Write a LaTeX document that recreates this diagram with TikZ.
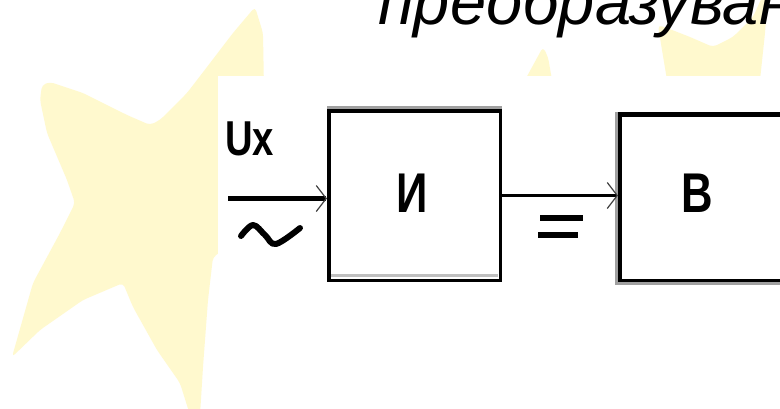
\documentclass[tikz,border=0pt]{standalone}
\usepackage{fontspec}
\setmainfont{Liberation Sans}
\newfontfamily\narrowfont[FakeStretch=0.78]{Liberation Sans}
\usetikzlibrary{arrows.meta}

\definecolor{starfill}{RGB}{255,249,206}
\definecolor{rimgray}{RGB}{160,160,160}

\tikzset{
  block/.style={draw=black, line width=3.5pt, fill=white, inner sep=0pt},
  blocklabel/.style={inner sep=0pt, font=\narrowfont\bfseries\fontsize{56pt}{56pt}\selectfont},
  signal/.style={inner sep=0pt, font=\narrowfont\bfseries\fontsize{49pt}{49pt}\selectfont},
  barb/.style={-{Straight Barb[length=10pt,width=26pt,line width=1.2pt,color=black!75]}},
  feed/.style={line width=5.5pt, barb},
  link/.style={line width=3pt, barb},
  star/.style={fill=starfill, draw=none, rounded corners=4pt},
  glyph/.style={line width=6pt, line cap=round, line join=round},
}

\begin{document}
\begin{tikzpicture}[x=1pt, y=-1pt]
  \useasboundingbox (0,0) rectangle (780,408);
  \clip (0,0) rectangle (780,408);
  \fill[white] (0,0) rectangle (780,408);

  % background stars
  \fill[star] (255,7) -- (263,33) -- (264,90) -- (300,200) -- (213,257) -- (208,300)
    -- (203,367) -- (200,415) -- (190,415) -- (180,383) -- (157,350) -- (133,307)
    -- (123,283) -- (83,300) -- (40,330) -- (12,357) -- (33,283) -- (60,233)
    -- (75,203) -- (67,180) -- (47,133) -- (40,100) -- (42,85) -- (50,82)
    -- (83,93) -- (127,115) -- (150,125) -- (160,120) -- (187,93) -- (207,67)
    -- (233,33) -- cycle;
  \fill[star] (658,25) -- (667,28) -- (690,37) -- (713,47) -- (733,37) -- (753,17)
    -- (763,-5) -- (768,-5) -- (765,33) -- (760,80) -- (667,80) -- (662,50) -- cycle;
  \fill[star] (525,80) -- (543,47) -- (548,57) -- (552,80) -- cycle;

  % white panel behind the scheme
  \fill[white] (218,76) rectangle (780,408);

  % heading
  \node[anchor=base west, inner sep=0pt, font=\itshape\fontsize{65pt}{65pt}\selectfont]
    (title) at (378,24) {преобразуван};

  % blocks
  \fill[rimgray] (327,106) rectangle (502,109);
  \node[block, minimum width=171.5pt, minimum height=169.5pt] (I) at (414.5,195.5) {};
  \fill[black!25] (331,274) rectangle (498,277);
  \node[blocklabel] (Ilabel) at (412,193) {И};

  \fill[rimgray] (615,112) rectangle (618,285);
  \fill[rimgray] (615,282) rectangle (790,285);
  \node[block, minimum width=162.5pt, minimum height=166.5pt] (B) at (701,197) {};
  \fill[black] (618,112) rectangle (790,117);
  \node[blocklabel] (Blabel) at (697.5,193) {В};

  % input signal
  \node[signal, anchor=base west] (ux) at (225,155) {Ux};
  \coordinate (src) at (228,198.5);
  \draw[feed] (src) -- (src -| I.west);
  \draw[glyph] plot[smooth, tension=0.6] coordinates
    {(241,236) (253,225) (265,235) (276,244) (300,228)};

  % rectified output
  \draw[link] (I.east) -- (I.east -| B.west);
  \fill (540,215) rectangle (583,221);
  \fill (538,232) rectangle (578,238);
\end{tikzpicture}
\end{document}
